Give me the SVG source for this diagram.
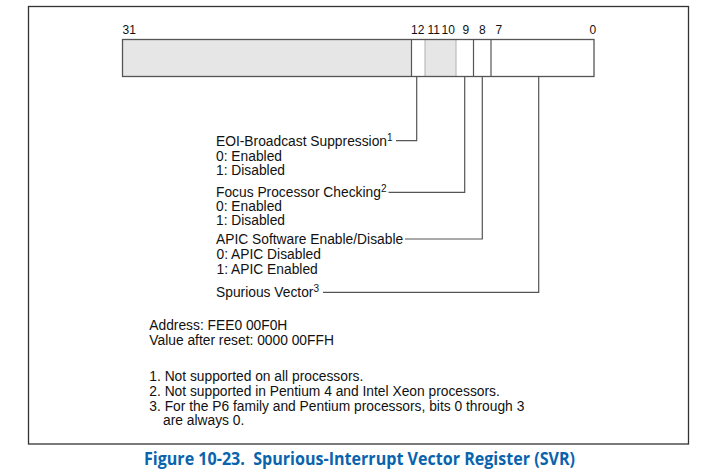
<svg xmlns="http://www.w3.org/2000/svg" width="725" height="473" viewBox="0 0 725 473">
<style>
.t{font-family:"Liberation Sans",Arial,sans-serif;font-size:13.8px;fill:#111}
.b{font-family:"Liberation Sans",Arial,sans-serif;font-size:12px;fill:#111}
.sup{font-family:"Liberation Sans",Arial,sans-serif;font-size:10px;fill:#111}
.ln{fill:none;stroke:#555;stroke-width:1.2}
.dk{stroke:#555;stroke-width:1.2}
.lt{stroke:#bbb;stroke-width:1.2}
.cap{font-family:"Open Sans","DejaVu Sans",sans-serif;font-size:17px;font-weight:bold;fill:#0a63ad}
</style>
<rect width="725" height="473" fill="#fff"/>
<rect id="frame" x="28.5" y="6.5" width="660" height="437.5" fill="none" stroke="#333" stroke-width="1.3"/>
<g id="register">
<rect x="122.5" y="39.5" width="289" height="37" fill="#e6e6e6"/>
<rect x="425" y="39.5" width="31" height="37" fill="#e6e6e6"/>
<line class="lt" x1="425" y1="39.5" x2="425" y2="76.5"/>
<line class="lt" x1="456" y1="39.5" x2="456" y2="76.5"/>
<line class="dk" x1="411.5" y1="39.5" x2="411.5" y2="76.5"/>
<line class="dk" x1="473.5" y1="39.5" x2="473.5" y2="76.5"/>
<line class="dk" x1="491" y1="39.5" x2="491" y2="76.5"/>
<rect x="122.5" y="39.5" width="471.5" height="37" fill="none" stroke="#555" stroke-width="1.3"/>
<text class="b" x="122.5" y="34">31</text>
<text class="b" x="411" y="34">12</text>
<text class="b" x="427.5" y="34">11</text>
<text class="b" x="441.5" y="34">10</text>
<text class="b" x="462.5" y="34">9</text>
<text class="b" x="479" y="34">8</text>
<text class="b" x="495.5" y="34">7</text>
<text class="b" x="589.5" y="34">0</text>
</g>
<g id="connectors">
<polyline class="ln" points="416.7,76.5 416.7,140.7 396,140.7"/>
<polyline class="ln" points="464.7,76.5 464.7,192.3 388.5,192.3"/>
<polyline class="ln" points="482.3,76.5 482.3,239 405,239"/>
<polyline class="ln" points="538.7,76.5 538.7,292.3 323,292.3"/>
</g>
<g id="eoi">
<text class="t" x="216" y="146">EOI-Broadcast Suppression<tspan class="sup" dy="-5">1</tspan></text>
<text class="t" x="216" y="160.5">0: Enabled</text>
<text class="t" x="216" y="174.5">1: Disabled</text>
</g>
<g id="focus">
<text class="t" x="216" y="196.7">Focus Processor Checking<tspan class="sup" dy="-5">2</tspan></text>
<text class="t" x="216" y="211">0: Enabled</text>
<text class="t" x="216" y="225">1: Disabled</text>
</g>
<g id="apic">
<text class="t" x="216" y="244">APIC Software Enable/Disable</text>
<text class="t" x="216.5" y="259">0: APIC Disabled</text>
<text class="t" x="216.5" y="273.5">1: APIC Enabled</text>
</g>
<g id="spurious">
<text class="t" x="216" y="297">Spurious Vector<tspan class="sup" dy="-5">3</tspan></text>
</g>
<g id="info">
<text class="t" x="149.3" y="330">Address: FEE0 00F0H</text>
<text class="t" x="149.3" y="345">Value after reset: 0000 00FFH</text>
<text class="t" x="149.3" y="381">1. Not supported on all processors.</text>
<text class="t" x="149.3" y="396">2. Not supported in Pentium 4 and Intel Xeon processors.</text>
<text class="t" x="149.3" y="410.5">3. For the P6 family and Pentium processors, bits 0 through 3</text>
<text class="t" x="163" y="425">are always 0.</text>
</g>
<text class="cap" x="144" y="465" textLength="431" lengthAdjust="spacingAndGlyphs" xml:space="preserve">Figure 10-23.  Spurious-Interrupt Vector Register (SVR)</text>
</svg>
